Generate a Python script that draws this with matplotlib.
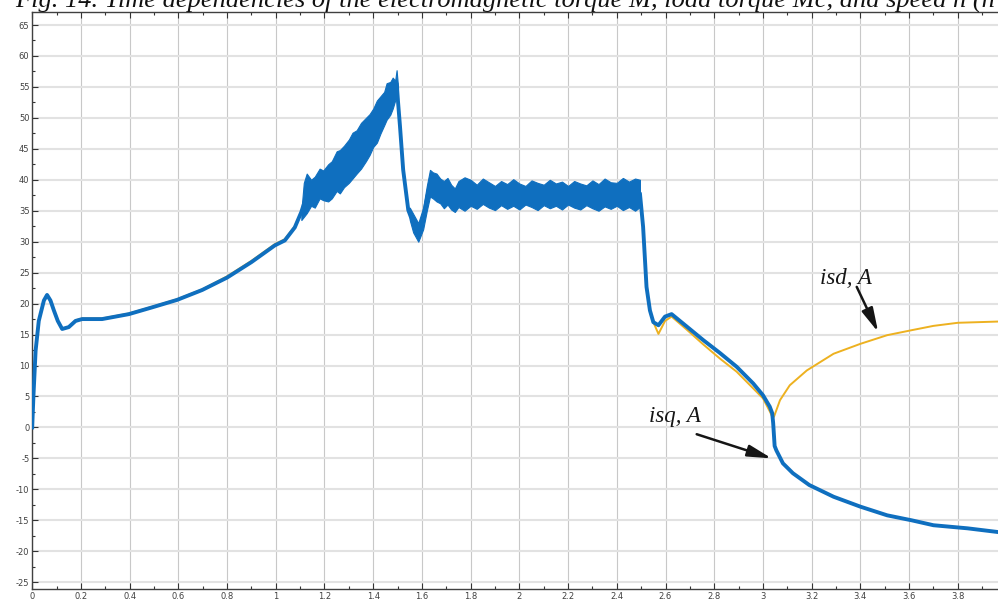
import matplotlib
matplotlib.use("Agg")
import matplotlib.pyplot as plt
from matplotlib.ticker import MultipleLocator

plt.rcParams["axes.unicode_minus"] = False

# stator current components vs time, s
isq_t = [0.0, 0.005, 0.014, 0.027, 0.048, 0.061, 0.075, 0.089, 0.105, 0.123,
         0.15, 0.178, 0.205, 0.287, 0.397, 0.493, 0.595, 0.698, 0.80, 0.90,
         0.996, 1.037, 1.078, 1.105, 1.127, 1.195, 1.263, 1.332, 1.40, 1.455,
         1.496, 1.51, 1.523, 1.544, 1.564, 1.585, 1.605, 1.633, 1.66, 1.73,
         1.81, 1.9, 2.0, 2.1, 2.2, 2.3, 2.4, 2.495, 2.508, 2.522,
         2.536, 2.55, 2.571, 2.598, 2.625, 2.687, 2.755, 2.824, 2.892, 2.96,
         3.0, 3.028, 3.038, 3.042, 3.048, 3.055, 3.082, 3.123, 3.19, 3.29,
         3.40, 3.51, 3.61, 3.70, 3.84, 3.965]
isq_v = [0.0, 5.0, 12.4, 17.2, 20.5, 21.4, 20.5, 18.9, 17.2, 15.9,
         16.2, 17.2, 17.5, 17.5, 18.3, 19.4, 20.6, 22.2, 24.2, 26.7,
         29.4, 30.2, 32.3, 34.8, 37.5, 39.0, 41.3, 44.5, 48.4, 52.6,
         55.5, 48.6, 41.6, 35.1, 33.0, 31.4, 33.8, 39.4, 39.1, 37.5,
         37.8, 37.6, 37.6, 37.6, 37.5, 37.6, 37.6, 37.8, 32.4, 22.7,
         18.9, 17.0, 16.5, 17.9, 18.3, 16.3, 14.1, 12.0, 9.8, 7.1,
         5.2, 3.35, 2.3, 0.7, -3.0, -3.7, -5.8, -7.4, -9.3, -11.2,
         -12.8, -14.2, -15.0, -15.8, -16.3, -16.9]

isd_t = [0.0, 0.005, 0.014, 0.027, 0.048, 0.061, 0.075, 0.089, 0.105, 0.123,
         0.15, 0.178, 0.205, 0.287, 0.397, 0.493, 0.595, 0.698, 0.80, 0.90,
         0.996, 1.037, 1.078, 1.105, 1.127, 1.195, 1.263, 1.332, 1.40, 1.455,
         1.496, 1.51, 1.523, 1.544, 1.564, 1.585, 1.605, 1.633, 1.66, 1.73,
         2.495, 2.508, 2.522, 2.536, 2.55, 2.571, 2.598, 2.625, 2.687, 2.755,
         2.824, 2.892, 2.96, 3.0, 3.028, 3.041, 3.046, 3.07, 3.11, 3.18,
         3.29, 3.40, 3.51, 3.61, 3.70, 3.80, 3.965]
isd_v = [0.0, 5.0, 12.4, 17.2, 20.5, 21.4, 20.5, 18.9, 17.2, 15.9,
         16.2, 17.3, 17.6, 17.6, 18.4, 19.5, 20.7, 22.3, 24.4, 26.9,
         29.6, 30.4, 32.5, 34.8, 37.5, 39.0, 41.3, 44.5, 48.4, 52.6,
         55.5, 48.6, 41.6, 35.1, 33.0, 31.4, 33.8, 39.4, 39.1, 37.5,
         37.8, 32.4, 22.7, 18.9, 17.0, 15.1, 17.2, 17.9, 15.8, 13.4,
         11.1, 9.0, 6.3, 4.7, 2.6, 1.5, 1.8, 4.4, 6.8, 9.2,
         11.9, 13.5, 14.9, 15.7, 16.4, 16.9, 17.1]

# oscillation envelope of isq during acceleration
band1_t = [1.105, 1.115, 1.127, 1.145, 1.16, 1.18, 1.195, 1.215, 1.23, 1.25,
           1.263, 1.28, 1.30, 1.315, 1.332, 1.35, 1.37, 1.385, 1.40, 1.415,
           1.43, 1.445, 1.455, 1.47, 1.48, 1.49, 1.496, 1.502]
band1_lo = [33.5, 34.0, 34.6, 35.8, 35.5, 37.0, 36.7, 36.5, 37.0, 38.2,
            37.8, 38.8, 39.5, 40.2, 41.0, 41.8, 43.0, 44.0, 45.3, 46.0,
            47.5, 48.8, 49.7, 50.5, 51.5, 52.8, 53.4, 53.0]
band1_hi = [35.0, 39.5, 41.0, 40.0, 40.5, 41.8, 41.5, 42.5, 43.0, 44.6,
            44.8, 45.5, 46.5, 47.6, 48.0, 49.2, 50.0, 50.6, 51.5, 52.8,
            53.5, 54.2, 55.6, 55.8, 56.5, 56.0, 57.7, 55.0]

# oscillation envelope of isq at steady speed
band2_t = [1.55, 1.564, 1.585, 1.605, 1.62, 1.633, 1.645, 1.66, 1.675, 1.69,
           1.705, 1.72, 1.735, 1.75, 1.775, 1.80, 1.825, 1.85, 1.875, 1.90,
           1.925, 1.95, 1.975, 2.0, 2.025, 2.05, 2.075, 2.1, 2.125, 2.15,
           2.175, 2.2, 2.225, 2.25, 2.275, 2.3, 2.325, 2.35, 2.375, 2.4,
           2.425, 2.45, 2.475, 2.495]
band2_lo = [33.5, 31.5, 30.0, 32.0, 35.0, 37.3, 37.0, 36.5, 36.2, 35.4,
            36.0, 35.2, 34.8, 35.6, 35.0, 35.8, 35.3, 36.1, 35.5, 35.1,
            35.9, 35.3, 35.8, 35.2, 36.0, 35.6, 35.1, 35.9, 35.4, 35.8,
            35.2, 36.0, 35.5, 35.2, 35.9, 35.4, 35.0, 35.7, 35.3, 35.8,
            35.1, 35.6, 35.0, 35.6]
band2_hi = [35.5, 34.5, 33.0, 35.5, 39.0, 41.6, 41.2, 41.0, 40.2, 39.8,
            40.3, 39.2, 38.6, 39.8, 40.4, 40.0, 39.2, 40.2, 39.6, 39.0,
            39.8, 39.3, 40.1, 39.4, 39.0, 39.9, 39.5, 39.2, 40.0, 39.4,
            39.7, 39.0, 39.8, 39.4, 39.1, 39.9, 39.3, 40.2, 39.6, 39.5,
            40.3, 39.7, 40.2, 40.0]

title = ("Fig. 14. Time dependencies of the electromagnetic torque M, "
         "load torque Mc, and speed n (n")

BLUE = "#0f6fbf"
ORANGE = "#edb120"
serif_it = dict(family=["Liberation Serif", "DejaVu Serif"], style="italic")

fig = plt.figure(figsize=(9.98, 5.99), dpi=100)
ax = fig.add_axes([32.2 / 998, 10 / 599, 1 - 32.2 / 998, 577 / 599])

ax.plot(isd_t, isd_v, color=ORANGE, lw=1.4, zorder=3)
ax.fill_between(band1_t, band1_lo, band1_hi, color=BLUE, lw=0.8, zorder=4)
ax.fill_between(band2_t, band2_lo, band2_hi, color=BLUE, lw=0.8, zorder=4)
ax.plot(isq_t, isq_v, color=BLUE, lw=2.8, zorder=5)

ax.set_xlim(0, 3.965)
ax.set_ylim(-26.1, 67.1)
ax.xaxis.set_major_locator(MultipleLocator(0.2))
ax.xaxis.set_minor_locator(MultipleLocator(0.1))
ax.yaxis.set_major_locator(MultipleLocator(5))
ax.yaxis.set_minor_locator(MultipleLocator(2.5))
ax.xaxis.set_major_formatter(plt.FuncFormatter(lambda v, p: f"{v:g}"))

ax.tick_params(which="both", direction="in", top=True, right=False,
               colors="#333333", labelcolor="#404040", labelsize=6, pad=2)
ax.tick_params(which="major", length=4, width=0.8)
ax.tick_params(which="minor", length=2.5, width=0.8)

ax.grid(False)
for x in ax.get_xticks():
    ax.axvline(x, color="#c8c8c8", lw=0.8, zorder=1)
for y in ax.get_yticks():
    ax.axhline(y, color="#e2e2e2", lw=1.5, zorder=1)

ax.spines["right"].set_visible(False)
for side in ("left", "bottom", "top"):
    ax.spines[side].set_color("#404040")
    ax.spines[side].set_linewidth(1.0)

arrow = dict(arrowstyle="-|>,head_length=0.9,head_width=0.22",
             color="#151515", lw=1.8, mutation_scale=16, shrinkA=0, shrinkB=0)
ax.annotate("", xy=(3.473, 15.4), xytext=(3.385, 22.7), arrowprops=arrow,
            zorder=6)
ax.annotate("", xy=(3.036, -5.0), xytext=(2.728, -1.1), arrowprops=arrow,
            zorder=6)
ax.text(3.341, 24.1, "isd, A", fontsize=16.5, ha="center", va="center",
        color="#151515", zorder=6, **serif_it)
ax.text(2.639, 1.7, "isq, A", fontsize=16.5, ha="center", va="center",
        color="#151515", zorder=6, **serif_it)

fig.text(15 / 998, 1 - 7 / 599, title, fontsize=19, ha="left",
         va="baseline", color="#111111", **serif_it)

fig.savefig("out.png", dpi=100)
